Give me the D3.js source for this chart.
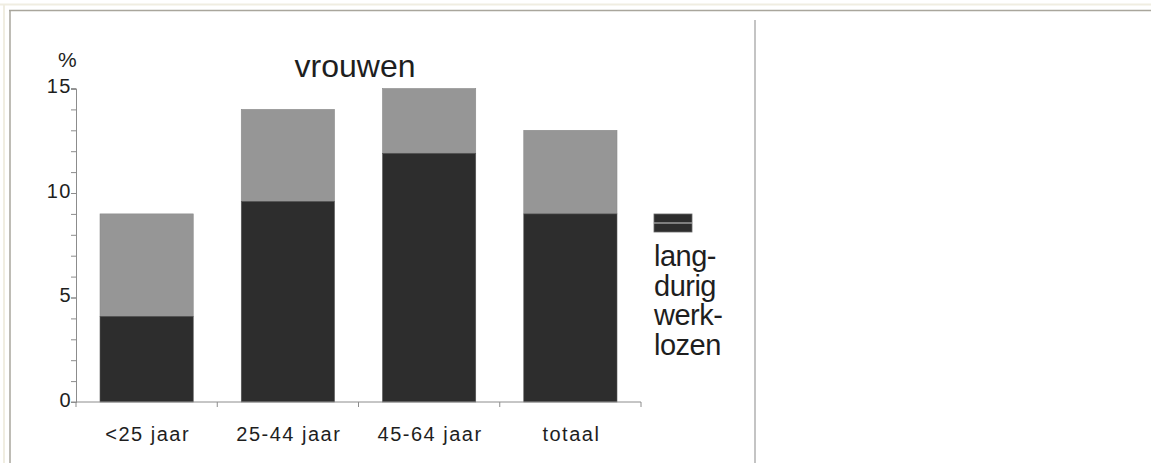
<!DOCTYPE html>
<html lang="nl">
<head>
    <meta charset="UTF-8">
    <title>vrouwen</title>
    <script src="https://d3js.org/d3.v7.min.js"></script>
    <style>
        body { margin: 0; background: #fff; }
        #chart { display: block; }
        text { font-family: "Liberation Sans", Arial, sans-serif; fill: #1e1e1e; }
        .tick-label { font-size: 20px; letter-spacing: 1.5px; }
    </style>
</head>
<body>
    <svg id="chart"></svg>
    <script>
        const width = 1151;
        const height = 463;

        // data
        const categories = ['<25 jaar', '25-44 jaar', '45-64 jaar', 'totaal'];
        const langdurig = [4.1, 9.6, 11.9, 9.0];
        const kortdurig = [4.9, 4.4, 3.1, 4.0];
        const yTicks = [0, 5, 10, 15];
        const legendLines = ['lang-', 'durig', 'werk-', 'lozen'];

        const svg = d3.select('#chart')
            .attr('width', width)
            .attr('height', height);

        // page frame
        svg.append('line').attr('x1', 0).attr('x2', width).attr('y1', 4.5).attr('y2', 4.5)
            .attr('stroke', '#f0ede1').attr('stroke-width', 2);
        svg.append('line').attr('x1', 4).attr('x2', 4).attr('y1', 4).attr('y2', height)
            .attr('stroke', '#f0ede1').attr('stroke-width', 2);
        svg.append('line').attr('x1', 9).attr('x2', width).attr('y1', 10.5).attr('y2', 10.5)
            .attr('stroke', '#a9a69c').attr('stroke-width', 1.5);
        svg.append('line').attr('x1', 10).attr('x2', 10).attr('y1', 10).attr('y2', height)
            .attr('stroke', '#a9a69c').attr('stroke-width', 1.5);
        svg.append('line').attr('x1', 755).attr('x2', 755).attr('y1', 20).attr('y2', height)
            .attr('stroke', '#c4c4c4').attr('stroke-width', 2);

        const x = d3.scaleBand()
            .domain(categories)
            .range([76, 641])
            .paddingInner(0.34)
            .paddingOuter(0.17);

        const y = d3.scaleLinear()
            .domain([0, 15])
            .range([402, 88.5]);

        const rows = categories.map((c, i) => ({ cat: c, lang: langdurig[i], kort: kortdurig[i] }));

        // bars: dark = langdurig, grey = the rest on top
        const bars = svg.append('g');
        bars.selectAll('rect.kort')
            .data(rows)
            .join('rect')
            .attr('class', 'kort')
            .attr('x', d => x(d.cat))
            .attr('width', x.bandwidth())
            .attr('y', d => y(d.lang + d.kort))
            .attr('height', d => y(d.lang) - y(d.lang + d.kort))
            .attr('fill', '#969696')
            .attr('stroke', '#8a8a8a')
            .attr('stroke-width', 0.6);
        bars.selectAll('rect.lang')
            .data(rows)
            .join('rect')
            .attr('class', 'lang')
            .attr('x', d => x(d.cat))
            .attr('width', x.bandwidth())
            .attr('y', d => y(d.lang))
            .attr('height', d => y(0) - y(d.lang))
            .attr('fill', '#2d2d2d')
            .attr('stroke', '#555')
            .attr('stroke-width', 0.6);

        // y axis with minor ticks
        const yMinor = svg.append('g')
            .attr('transform', 'translate(76,0)')
            .call(d3.axisLeft(y).tickValues(d3.range(0, 16)).tickSize(5).tickFormat(''));
        const yAxis = svg.append('g')
            .attr('transform', 'translate(76,0)')
            .call(d3.axisLeft(y).tickValues(yTicks).tickSize(5).tickPadding(2));
        yAxis.selectAll('text')
            .attr('class', 'tick-label')
            .attr('dy', '0.22em')
            .attr('dx', 3)
            .style('font-size', null)
            .style('font-family', null);
        yAxis.attr('font-size', null).attr('font-family', null);
        [yMinor, yAxis].forEach(g => {
            g.select('.domain').attr('stroke', '#8c8c8c');
            g.selectAll('.tick line').attr('stroke', '#8c8c8c');
        });

        // x axis: line, boundary ticks and labels
        const bounds = categories.map(c => x(c) - x.step() * x.paddingInner() / 2).concat([641]);
        const xAxis = svg.append('g').attr('transform', 'translate(0,402)');
        xAxis.append('line').attr('x1', 71).attr('x2', 641).attr('stroke', '#8c8c8c');
        xAxis.selectAll('line.bt')
            .data(bounds)
            .join('line')
            .attr('class', 'bt')
            .attr('x1', d => d).attr('x2', d => d)
            .attr('y1', 0).attr('y2', 5)
            .attr('stroke', '#8c8c8c');
        xAxis.selectAll('text')
            .data(categories)
            .join('text')
            .attr('class', 'tick-label')
            .attr('x', d => x(d) + x.bandwidth() / 2 + 1)
            .attr('y', 39)
            .attr('text-anchor', 'middle')
            .text(d => d);

        svg.append('text')
            .attr('x', 58).attr('y', 67)
            .style('font-size', '21px')
            .text('%');

        svg.append('text')
            .attr('x', 355).attr('y', 77)
            .attr('text-anchor', 'middle')
            .style('font-size', '32px')
            .text('vrouwen');

        // legend (only the long-term series)
        const legend = svg.append('g').attr('transform', 'translate(654,214)');
        legend.append('rect')
            .attr('width', 38).attr('height', 18)
            .attr('fill', '#2d2d2d').attr('stroke', '#666').attr('stroke-width', 0.8);
        legend.append('line')
            .attr('x1', 0).attr('x2', 38).attr('y1', 9).attr('y2', 9)
            .attr('stroke', '#9a9a9a').attr('stroke-width', 1.5);
        legend.selectAll('text.leg')
            .data(legendLines)
            .join('text')
            .attr('class', 'leg')
            .attr('x', 0)
            .attr('y', (d, i) => 52 + i * 29.5)
            .style('font-size', '29px')
            .style('letter-spacing', '-0.5px')
            .text(d => d);
    </script>
</body>
</html>
